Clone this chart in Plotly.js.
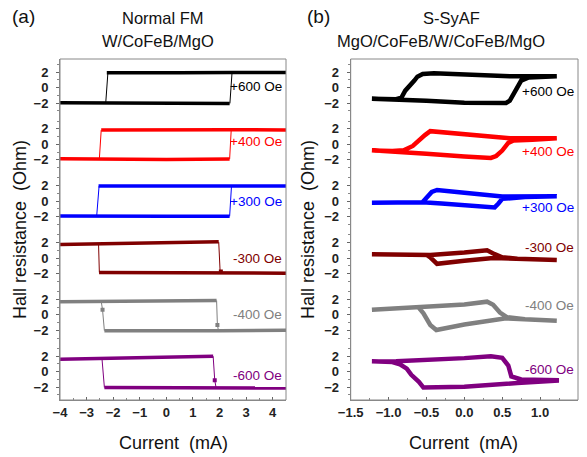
<!DOCTYPE html>
<html><head><meta charset="utf-8">
<script src="https://cdn.plot.ly/plotly-3.0.1.min.js"></script>
<style>html,body{margin:0;padding:0;background:#fff}</style>
</head><body><div id="chart" style="width:587px;height:457px"></div>
<script>
// ---------- Panel (a): Normal FM, W/CoFeB/MgO ----------
const fieldLabels = ['+600 Oe', '+400 Oe', '+300 Oe', '-300 Oe', '-400 Oe', '-600 Oe'];
const seriesColors = ['#000000', '#ff0000', '#0000ff', '#800000', '#808080', '#800080'];

// upper branch, lower branch, switching segments, switching points (mA, Ohm)
const a600_upX = [-2.24, -1, 0.5, 2.5, 4.5];   const a600_upY = [1.9, 1.85, 1.9, 1.95, 1.95];
const a600_loX = [-4, -2, 0, 2.38];            const a600_loY = [-1.95, -2.0, -2.05, -2.05];
const a600_swX = [-2.28, -2.2, null, 2.39, 2.47]; const a600_swY = [-2.0, 1.85, null, -2.05, 1.9];
const a600_ptX = []; const a600_ptY = [];

const a400_upX = [-2.45, 0, 2.4, 4.5];         const a400_upY = [1.85, 1.9, 1.9, 1.85];
const a400_loX = [-4, -2.5, 0, 2.38];          const a400_loY = [-1.85, -1.9, -1.95, -1.9];
const a400_swX = [-2.52, -2.45, null, 2.38, 2.44]; const a400_swY = [-1.9, 1.85, null, -1.9, 1.9];
const a400_ptX = []; const a400_ptY = [];

const a300_upX = [-2.55, 0, 2.4, 4.5];         const a300_upY = [1.95, 1.95, 1.95, 1.95];
const a300_loX = [-4, -2.5, 0, 2.38];          const a300_loY = [-1.9, -1.95, -1.95, -1.95];
const a300_swX = [-2.62, -2.53, null, 2.38, 2.45]; const a300_swY = [-1.9, 1.95, null, -1.95, 1.95];
const a300_ptX = []; const a300_ptY = [];

const am300_upX = [-4, -2, 0, 1.97];           const am300_upY = [1.75, 1.85, 2.0, 2.1];
const am300_loX = [-2.53, 0, 2, 4.5];          const am300_loY = [-1.85, -1.9, -1.95, -1.95];
const am300_swX = [-2.55, -2.52, null, 1.97, 2.02, 2.08]; const am300_swY = [1.8, -1.85, null, 2.05, -1.55, -1.8];
const am300_ptX = [2.05]; const am300_ptY = [-1.75];

const am400_upX = [-4, -2, 0, 1.89];           const am400_upY = [1.7, 1.75, 1.85, 1.85];
const am400_loX = [-2.33, 0, 2, 4.5];          const am400_loY = [-2.05, -2.1, -2.05, -2.0];
const am400_swX = [-2.45, -2.4, -2.33, null, 1.89, 1.92, 1.96]; const am400_swY = [1.75, 0.65, -2.05, null, 1.85, -1.3, -2.05];
const am400_ptX = [-2.4, 1.92]; const am400_ptY = [0.65, -1.3];

const am600_upX = [-4, -2, 0, 1.76];           const am600_upY = [1.6, 1.75, 1.9, 2.0];
const am600_loX = [-2.33, 0, 2, 4.5];          const am600_loY = [-2.05, -2.1, -2.1, -2.1];
const am600_swX = [-2.42, -2.33, null, 1.76, 1.82, 1.87]; const am600_swY = [1.65, -2.05, null, 2.0, -1.1, -2.05];
const am600_ptX = [1.82]; const am600_ptY = [-1.1];

// ---------- Panel (b): S-SyAF, MgO/CoFeB/W/CoFeB/MgO (closed loops) ----------
const b600_x = [-1.22, -1.0, -0.85, -0.5, 0, 0.55, 0.6, 0.65, 0.7, 0.75, 0.85, 1.0, 1.22, 1.22, 0.6, 0, -0.4, -0.55, -0.62, -0.66, -0.72, -0.78, -0.83, -0.9, -1.22];
const b600_y = [-1.45, -1.5, -1.5, -1.7, -1.95, -2.0, -1.7, -0.8, 0.2, 0.9, 1.3, 1.35, 1.35, 1.45, 1.45, 1.68, 1.85, 1.75, 1.4, 0.9, 0.2, -0.4, -1.3, -1.5, -1.45];

const b400_x = [-1.22, -0.9, -0.5, 0, 0.35, 0.42, 0.5, 0.58, 0.65, 0.9, 1.22, 1.22, 0.6, 0, -0.45, -0.52, -0.6, -0.68, -0.8, -0.95, -1.22];
const b400_y = [-0.75, -0.9, -1.2, -1.55, -1.75, -1.5, -0.8, 0.2, 0.5, 0.6, 0.75, 0.8, 0.8, 1.3, 1.7, 1.2, 0.4, -0.2, -0.75, -0.85, -0.8];

const b300_x = [-1.22, -0.9, -0.55, -0.3, 0, 0.4, 0.45, 0.5, 0.8, 1.22, 1.22, 0.5, 0, -0.36, -0.43, -0.5, -0.55];
const b300_y = [-0.2, -0.15, -0.15, -0.3, -0.5, -0.8, -0.3, 0.3, 0.55, 0.6, 0.65, 0.6, 1.1, 1.45, 1.2, 0.4, -0.1];

const bm300_x = [-1.22, -0.8, -0.45, 0, 0.3, 0.4, 0.5, 0.7, 1.22, 1.22, 0.6, 0.38, 0, -0.36, -0.45, -0.5];
const bm300_y = [0.5, 0.45, 0.4, 0.7, 1.0, 0.5, 0.1, -0.1, -0.25, -0.25, -0.15, 0.0, -0.35, -0.75, 0.1, 0.4];

const bm400_x = [-1.22, -0.6, 0, 0.3, 0.38, 0.47, 0.56, 0.8, 1.22, 1.22, 0.55, 0, -0.37, -0.45, -0.54, -0.6];
const bm400_y = [0.65, 0.95, 1.35, 1.7, 1.3, 0.3, -0.3, -0.55, -0.7, -0.75, -0.45, -1.25, -1.95, -1.3, 0.2, 0.9];

const bm600_x = [-1.22, -0.9, 0, 0.35, 0.5, 0.58, 0.62, 0.75, 1.22, 1.22, 0.7, 0, -0.54, -0.6, -0.7, -0.76, -0.85, -0.95, -1.22];
const bm600_y = [1.3, 1.35, 1.75, 2.0, 1.8, 0.8, -0.6, -1.0, -1.1, -1.15, -1.45, -1.95, -2.05, -1.3, -0.4, 0.4, 0.95, 1.25, 1.35];

// label offsets (Ohm) inside each strip
const aLabelY = [0.1, 0.4, 0, -0.1, 0, -0.5];
const bLabelY = [-0.5, -0.9, -0.8, 1.3, 1.2, 0.3];

// ---------- build ----------
const W = 587, H = 457;
const FONT = 'Arial, "Liberation Sans", sans-serif';
const aSets = [
  [a600_upX, a600_upY, a600_loX, a600_loY, a600_swX, a600_swY, a600_ptX, a600_ptY],
  [a400_upX, a400_upY, a400_loX, a400_loY, a400_swX, a400_swY, a400_ptX, a400_ptY],
  [a300_upX, a300_upY, a300_loX, a300_loY, a300_swX, a300_swY, a300_ptX, a300_ptY],
  [am300_upX, am300_upY, am300_loX, am300_loY, am300_swX, am300_swY, am300_ptX, am300_ptY],
  [am400_upX, am400_upY, am400_loX, am400_loY, am400_swX, am400_swY, am400_ptX, am400_ptY],
  [am600_upX, am600_upY, am600_loX, am600_loY, am600_swX, am600_swY, am600_ptX, am600_ptY]
];
const bSets = [[b600_x, b600_y], [b400_x, b400_y], [b300_x, b300_y], [bm300_x, bm300_y], [bm400_x, bm400_y], [bm600_x, bm600_y]];

const traces = [];
const yName = i => (i === 0 ? 'y' : 'y' + (i + 1));
aSets.forEach((s, i) => {
  const c = seriesColors[i], ya = yName(i);
  traces.push({x: s[4], y: s[5], xaxis: 'x', yaxis: ya, mode: 'lines', line: {color: c, width: 1}, hoverinfo: 'skip'});
  traces.push({x: s[0], y: s[1], xaxis: 'x', yaxis: ya, mode: 'lines', line: {color: c, width: 3.5}});
  traces.push({x: s[2], y: s[3], xaxis: 'x', yaxis: ya, mode: 'lines', line: {color: c, width: 3.5}});
  if (s[6].length) traces.push({x: s[6], y: s[7], xaxis: 'x', yaxis: ya, mode: 'markers', marker: {color: c, size: 4, symbol: 'square'}});
});
bSets.forEach((s, i) => {
  traces.push({x: s[0], y: s[1], xaxis: 'x2', yaxis: yName(i + 6), mode: 'lines', line: {color: seriesColors[i], width: 4.5, shape: 'linear'}});
});

const yTop = 1 - 59 / H, yBot = 1 - 400 / H;
const band = (yTop - yBot) / 6;
const tickFont = {family: FONT, size: 13, color: '#222', weight: 'bold'};
const layout = {
  width: W, height: H, margin: {l: 0, r: 0, t: 0, b: 0},
  paper_bgcolor: '#fff', plot_bgcolor: 'rgba(0,0,0,0)', showlegend: false,
  font: {family: FONT, color: '#222'},
  xaxis: {domain: [60 / W, 286 / W], range: [-4, 4.5], anchor: 'y6', dtick: 1, tick0: 0,
    showline: true, linecolor: '#888', linewidth: 1, ticks: 'inside', ticklen: 3, tickcolor: '#666',
    minor: {dtick: 0.5, ticks: 'inside', ticklen: 2, tickcolor: '#888'},
    showgrid: false, zeroline: false, tickfont: tickFont},
  xaxis2: {domain: [350.7 / W, 578 / W], range: [-1.5, 1.5], anchor: 'y12', dtick: 0.5, tick0: 0,
    tickformat: '.1f', showline: true, linecolor: '#888', linewidth: 1, ticks: 'inside', ticklen: 3, tickcolor: '#666',
    minor: {dtick: 0.25, ticks: 'inside', ticklen: 2, tickcolor: '#888'},
    showgrid: false, zeroline: false, tickfont: tickFont},
  shapes: [], annotations: []
};
for (let k = 0; k < 12; k++) {
  const i = k % 6;
  const key = k === 0 ? 'yaxis' : 'yaxis' + (k + 1);
  layout[key] = {
    domain: [yTop - (i + 1) * band, yTop - i * band], range: [-3.65, 3.68],
    anchor: k < 6 ? 'x' : 'x2', dtick: 2, tick0: 0,
    showline: true, linecolor: '#888', linewidth: 1, ticks: 'outside', ticklen: 3, tickcolor: '#666',
    minor: {dtick: 1, ticks: 'outside', ticklen: 2, tickcolor: '#888'},
    ticklabelstandoff: 5, showgrid: false, zeroline: false, tickfont: tickFont
  };
}
// frames
[[60 / W, 286 / W], [350.7 / W, 578 / W]].forEach(d => {
  layout.shapes.push({type: 'rect', xref: 'paper', yref: 'paper', x0: d[0], x1: d[1], y0: yBot, y1: yTop,
    line: {color: '#888', width: 1}, fillcolor: 'rgba(0,0,0,0)', layer: 'above'});
});
// field labels
fieldLabels.forEach((t, i) => {
  layout.annotations.push({text: t, xref: 'x domain', x: 0.992, xanchor: 'right', yref: yName(i), y: aLabelY[i],
    yanchor: 'middle', showarrow: false, font: {family: FONT, size: 13.5, color: seriesColors[i]}});
  layout.annotations.push({text: t, xref: 'x2 domain', x: 0.99, xanchor: 'right', yref: yName(i + 6), y: bLabelY[i],
    yanchor: 'middle', showarrow: false, font: {family: FONT, size: 13.5, color: seriesColors[i]}});
});
const txt = (text, xpx, ypx, size, angle) => ({text, xref: 'paper', yref: 'paper', x: xpx / W, y: 1 - ypx / H,
  xanchor: 'center', yanchor: 'middle', showarrow: false, textangle: angle || 0, font: {family: FONT, size, color: '#111'}});
layout.annotations.push(txt('(a)', 23, 16, 19));
layout.annotations.push(txt('(b)', 318, 16, 19));
layout.annotations.push(txt('Normal FM', 163, 18, 16.5));
layout.annotations.push(txt('W/CoFeB/MgO', 158, 41, 16.5));
layout.annotations.push(txt('S-SyAF', 451, 18, 16.5));
layout.annotations.push(txt('MgO/CoFeB/W/CoFeB/MgO', 441, 41, 16.5));
layout.annotations.push(txt('Hall resistance\u00a0 (Ohm)', 20, 230, 18, -90));
layout.annotations.push(txt('Hall resistance\u00a0 (Ohm)', 308, 230, 18, -90));
layout.annotations.push(txt('Current\u00a0 (mA)', 173, 443, 18));
layout.annotations.push(txt('Current\u00a0 (mA)', 464, 443, 18));

Plotly.newPlot('chart', traces, layout, {staticPlot: true, displayModeBar: false});
</script></body></html>
